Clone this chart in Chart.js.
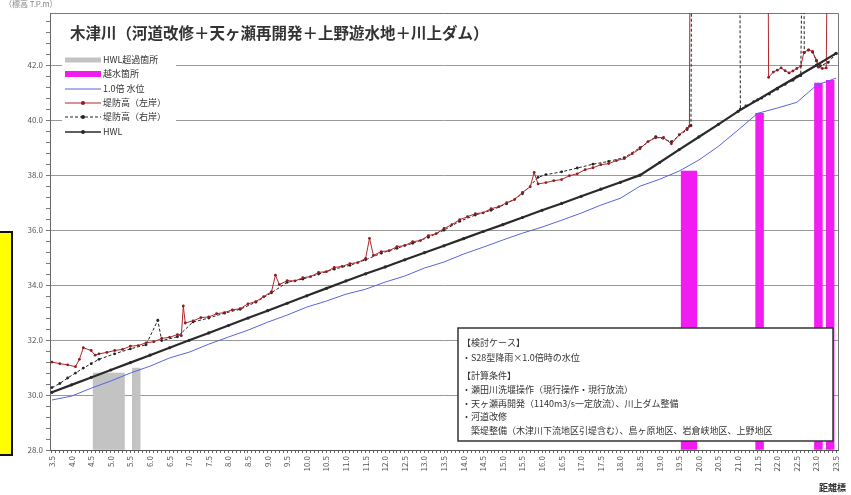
<!DOCTYPE html>
<html lang="ja">
<head>
<meta charset="utf-8">
<title>木津川 水位縦断図</title>
<script src="https://cdn.jsdelivr.net/npm/chart.js@4.4.1/dist/chart.umd.min.js"></script>
<style>
  html, body { margin: 0; padding: 0; background: #fff; }
  #wrap { position: relative; width: 851px; height: 495px; }
</style>
</head>
<body>
<div id="wrap"><canvas id="chart" width="851" height="495"></canvas></div>
<script>
/* axis ranges (距離標 km / 標高 T.P.m) */
const xMin = 3.45, xMax = 23.55;
const yMin = 28.0, yMax = 43.9;

/* HWL */
const hwlKm = [3.5, 4.0, 4.5, 5.0, 5.5, 6.0, 6.5, 7.0, 7.5, 8.0, 8.5, 9.0, 9.5, 10.0, 10.5, 11.0, 11.5, 12.0, 12.5, 13.0,
  13.5, 14.0, 14.5, 15.0, 15.5, 16.0, 16.5, 17.0, 17.5, 18.0, 18.5, 19.0, 19.5, 20.0, 20.5, 21.0, 21.5, 22.0, 22.5, 23.0, 23.5];
const hwlLevel = [30.10, 30.37, 30.64, 30.91, 31.18, 31.45, 31.72, 31.99, 32.26, 32.53, 32.80, 33.07, 33.34, 33.61, 33.88,
  34.15, 34.41, 34.66, 34.92, 35.18, 35.43, 35.69, 35.95, 36.20, 36.46, 36.72, 36.97, 37.23, 37.49, 37.74, 38.00, 38.46,
  38.93, 39.39, 39.85, 40.32, 40.74, 41.16, 41.58, 42.00, 42.43];

/* 1.0倍 水位 */
const waterKm = [3.5, 4.0, 4.5, 5.0, 5.5, 6.0, 6.5, 7.0, 7.5, 8.0, 8.5, 9.0, 9.5, 10.0, 10.5, 11.0, 11.5, 12.0, 12.5, 13.0,
  13.5, 14.0, 14.5, 15.0, 15.5, 16.0, 16.5, 17.0, 17.5, 18.0, 18.5, 19.0, 19.5, 20.0, 20.5, 21.0, 21.5, 22.0, 22.5, 23.0, 23.5];
const waterLevel = [29.82, 29.96, 30.25, 30.51, 30.80, 31.05, 31.35, 31.56, 31.85, 32.11, 32.36, 32.65, 32.91, 33.20, 33.42,
  33.67, 33.85, 34.11, 34.33, 34.62, 34.84, 35.13, 35.38, 35.64, 35.89, 36.11, 36.36, 36.62, 36.91, 37.16, 37.60, 37.85,
  38.15, 38.55, 39.05, 39.64, 40.25, 40.44, 40.65, 41.27, 41.53];

/* 堤防高（左岸）, 48.0 = 無堤区間の立ち上がり */
const leftKm = [3.5, 3.7, 3.9, 4.1, 4.2, 4.3, 4.5, 4.6, 4.7, 4.9, 5.1, 5.3, 5.5, 5.7, 5.9, 6.1, 6.3, 6.5, 6.7, 6.8, 6.85, 6.9,
  7.1, 7.3, 7.5, 7.7, 7.9, 8.1, 8.3, 8.5, 8.7, 8.9, 9.1, 9.2, 9.3, 9.5, 9.7, 9.9, 10.1, 10.3, 10.5, 10.7, 10.9, 11.1, 11.3,
  11.5, 11.6, 11.7, 11.9, 12.1, 12.3, 12.5, 12.7, 12.9, 13.1, 13.3, 13.5, 13.7, 13.9, 14.1, 14.3, 14.5, 14.7, 14.9, 15.1,
  15.3, 15.5, 15.7, 15.8, 15.9, 16.1, 16.3, 16.5, 16.7, 16.9, 17.1, 17.3, 17.5, 17.7, 17.9, 18.1, 18.3, 18.5, 18.7, 18.9,
  19.1, 19.3, 19.5, 19.7, 19.76, 19.78, 20.8, 21.76, 21.78, 21.9, 22.0, 22.1, 22.2, 22.3, 22.4, 22.5, 22.6, 22.68, 22.8,
  22.9, 23.0, 23.05, 23.15, 23.25, 23.29];
const leftLevee = [31.20, 31.14, 31.10, 31.03, 31.30, 31.72, 31.62, 31.45, 31.50, 31.55, 31.62, 31.66, 31.78, 31.80, 31.90,
  31.94, 32.06, 32.10, 32.20, 32.16, 33.24, 32.62, 32.70, 32.82, 32.84, 32.96, 33.00, 33.10, 33.14, 33.32, 33.40, 33.58,
  33.76, 34.36, 34.02, 34.16, 34.15, 34.27, 34.31, 34.46, 34.49, 34.64, 34.68, 34.78, 34.82, 34.97, 35.70, 35.08, 35.22,
  35.25, 35.40, 35.44, 35.58, 35.62, 35.80, 35.87, 36.06, 36.20, 36.38, 36.49, 36.60, 36.63, 36.78, 36.85, 37.00, 37.11,
  37.37, 37.58, 38.10, 37.68, 37.73, 37.80, 37.84, 37.98, 38.05, 38.20, 38.27, 38.38, 38.42, 38.53, 38.60, 38.78, 38.96,
  39.22, 39.36, 39.37, 39.14, 39.47, 39.70, 39.78, 48.0, null, 48.0, 41.56, 41.75, 41.82, 41.90, 41.80, 41.72, 41.79,
  41.88, 41.97, 42.47, 42.56, 42.50, 42.18, 41.93, 41.88, 41.90, 48.0];

/* 堤防高（右岸） */
const rightKm = [3.5, 3.7, 3.9, 4.1, 4.3, 4.5, 4.7, 5.1, 5.5, 5.9, 6.2, 6.3, 6.7, 7.1, 7.5, 7.9, 8.3, 8.7, 9.1, 9.5, 9.9,
  10.3, 10.7, 11.1, 11.5, 11.9, 12.3, 12.7, 13.1, 13.5, 13.9, 14.3, 14.7, 15.1, 15.5, 15.9, 16.1, 16.5, 16.9, 17.3, 17.7,
  18.1, 18.5, 18.9, 19.3, 19.7, 19.8, 19.82, 20.5, 21.04, 21.06, 21.2, 21.4, 21.6, 21.8, 22.0, 22.2, 22.4, 22.6, 22.65,
  22.67, 22.69, 22.8, 22.9, 23.0, 23.1, 23.3, 23.5];
const rightLevee = [30.27, 30.42, 30.62, 30.80, 30.98, 31.14, 31.30, 31.50, 31.68, 31.83, 32.72, 31.98, 32.12, 32.66, 32.80,
  32.98, 33.12, 33.38, 33.72, 34.10, 34.22, 34.40, 34.58, 34.72, 34.92, 35.16, 35.34, 35.52, 35.74, 36.00, 36.32, 36.55,
  36.72, 36.96, 37.32, 37.92, 38.02, 38.12, 38.26, 38.40, 38.50, 38.64, 39.00, 39.40, 39.22, 39.66, 39.80, 48.0, null,
  48.0, 40.40, 40.52, 40.67, 40.80, 40.95, 41.13, 41.30, 41.45, 41.62, 48.0, 48.0, 42.45, 42.55, 42.48, 42.15, 41.98,
  42.10, 42.42];

/* HWL超過箇所 / 越水箇所 (水位) */
const overHwlKm = [4.6, 4.7, 4.8, 4.9, 5.0, 5.1, 5.2, 5.3, 5.6, 5.7];
const overHwlLevel = [30.80, 30.80, 30.80, 30.80, 30.80, 30.80, 30.80, 30.80, 30.98, 30.98];
const overtopKm = [19.6, 19.7, 19.8, 19.9, 21.5, 21.6, 23.0, 23.1, 23.3, 23.4];
const overtopLevel = [38.15, 38.15, 38.15, 38.15, 40.25, 40.25, 41.35, 41.35, 41.45, 41.45];

const chartTitle = '木津川（河道改修＋天ヶ瀬再開発＋上野遊水地＋川上ダム）';
const noteLines = [
  '【検討ケース】',
  '・S28型降雨×1.0倍時の水位',
  '【計算条件】',
  '・瀬田川洗堰操作（現行操作・現行放流）',
  '・天ヶ瀬再開発（1140m3/s一定放流）、川上ダム整備',
  '・河道改修',
  '　築堤整備（木津川下流地区引堤含む）、島ヶ原地区、岩倉峡地区、上野地区'
];

const JP = '"Noto Sans CJK JP", "Noto Sans", sans-serif';

function pts(km, vals) {
  return km.map((k, i) => ({x: k, y: vals[i]}));
}

function isStep(v, step) {
  const r = v / step;
  return Math.abs(r - Math.round(r)) < 1e-6;
}

/* plot frame (top / right) */
const frame = {
  id: 'frame',
  beforeDatasetsDraw(chart) {
    const {ctx, chartArea: a} = chart;
    ctx.save();
    ctx.strokeStyle = '#777';
    ctx.lineWidth = 1;
    ctx.beginPath();
    ctx.moveTo(a.left, a.top + 0.5);
    ctx.lineTo(a.right + 0.5, a.top + 0.5);
    ctx.lineTo(a.right + 0.5, a.bottom);
    ctx.stroke();
    ctx.restore();
  }
};

/* title, legend, note box and side labels */
const overlay = {
  id: 'overlay',
  afterDraw(chart) {
    const ctx = chart.ctx;
    ctx.save();

    // title
    ctx.fillStyle = '#333';
    ctx.font = 'bold 15.5px ' + JP;
    ctx.textBaseline = 'middle';
    ctx.textAlign = 'left';
    ctx.fillText(chartTitle, 70, 33);

    // legend
    ctx.fillStyle = '#fff';
    ctx.fillRect(62, 52, 114, 88);
    const rowY = [60, 74, 89, 103, 117, 132];
    chart.data.datasets.forEach((ds, i) => {
      const y = rowY[i];
      ctx.save();
      ctx.strokeStyle = ds.legendColor;
      ctx.lineWidth = ds.legendWidth;
      ctx.setLineDash(ds.borderDash || []);
      ctx.beginPath();
      ctx.moveTo(65, y);
      ctx.lineTo(101, y);
      ctx.stroke();
      ctx.setLineDash([]);
      if (ds.pointRadius) {
        ctx.fillStyle = ds.pointBackgroundColor;
        ctx.beginPath();
        ctx.arc(83, y, 2, 0, Math.PI * 2);
        ctx.fill();
      }
      ctx.restore();
      ctx.fillStyle = '#333';
      ctx.font = '9px ' + JP;
      ctx.fillText(ds.label, 103, y);
    });

    // note box
    ctx.fillStyle = '#fff';
    ctx.fillRect(458, 328, 375, 113);
    ctx.strokeStyle = '#333';
    ctx.lineWidth = 1.5;
    ctx.strokeRect(458, 328, 375, 113);
    ctx.fillStyle = '#333';
    ctx.font = '9px ' + JP;
    const noteY = [343, 358, 376, 390, 404, 417, 431];
    noteLines.forEach((t, i) => ctx.fillText(t, 462, noteY[i]));

    // 距離標 / 標高
    ctx.font = 'bold 9px ' + JP;
    ctx.textAlign = 'right';
    ctx.fillText('距離標', 846, 488);
    ctx.font = '8px ' + JP;
    ctx.textAlign = 'left';
    ctx.fillStyle = '#888';
    ctx.fillText('（標高 T.P.m）', 4, 4);

    // yellow marker tab at left edge
    ctx.fillStyle = '#ffff00';
    ctx.fillRect(-4, 232, 16, 223);
    ctx.strokeStyle = '#111';
    ctx.lineWidth = 2;
    ctx.strokeRect(-4, 232, 16, 223);

    ctx.restore();
  }
};

const chart = new Chart(document.getElementById('chart').getContext('2d'), {
  type: 'line',
  data: {
    datasets: [
      {
        type: 'bar', label: 'HWL超過箇所', data: pts(overHwlKm, overHwlLevel),
        backgroundColor: '#c3c3c3', borderWidth: 0, base: yMin, grouped: false,
        barPercentage: 1, categoryPercentage: 1, order: 10,
        legendColor: '#c3c3c3', legendWidth: 5
      },
      {
        type: 'bar', label: '越水箇所', data: pts(overtopKm, overtopLevel),
        backgroundColor: '#f21cf2', borderWidth: 0, base: yMin, grouped: false,
        barPercentage: 1, categoryPercentage: 1, order: 9,
        legendColor: '#f21cf2', legendWidth: 6
      },
      {
        label: '1.0倍 水位', data: pts(waterKm, waterLevel),
        borderColor: '#5565e0', borderWidth: 1, pointRadius: 0, order: 4,
        legendColor: '#5565e0', legendWidth: 1
      },
      {
        label: '堤防高（左岸）', data: pts(leftKm, leftLevee),
        borderColor: '#b3262b', borderWidth: 1, pointRadius: 1.4,
        pointBackgroundColor: '#8c1d22', pointBorderWidth: 0, order: 2,
        legendColor: '#b3262b', legendWidth: 1
      },
      {
        label: '堤防高（右岸）', data: pts(rightKm, rightLevee),
        borderColor: '#222', borderWidth: 1, borderDash: [3, 2], pointRadius: 1.4,
        pointBackgroundColor: '#222', pointBorderWidth: 0, order: 3,
        legendColor: '#222', legendWidth: 1
      },
      {
        label: 'HWL', data: pts(hwlKm, hwlLevel),
        borderColor: '#2a2a2a', borderWidth: 2.2, pointRadius: 1.6,
        pointBackgroundColor: '#2a2a2a', pointBorderWidth: 0, order: 1,
        legendColor: '#2a2a2a', legendWidth: 1.5
      }
    ]
  },
  options: {
    responsive: false,
    animation: false,
    devicePixelRatio: 1,
    layout: {padding: {left: 0, right: 13, top: 13, bottom: 0}},
    plugins: {legend: {display: false}, tooltip: {enabled: false}},
    elements: {line: {tension: 0}},
    scales: {
      x: {
        type: 'linear', min: xMin, max: xMax, offset: false,
        grid: {drawOnChartArea: false, offset: false, tickLength: 3, tickColor: '#666'},
        border: {color: '#555', width: 1},
        ticks: {
          autoSkip: false, minRotation: 90, maxRotation: 90, padding: 3,
          color: '#555', font: {size: 8, family: JP},
          callback: v => isStep(v, 0.5) ? v.toFixed(1) : ''
        },
        // 0.1 km 刻みの目盛（0.5 km ごとに距離標）
        afterBuildTicks: s => {
          const t = [];
          for (let k = 35; k <= 235; k++) t.push({value: k / 10});
          s.ticks = t;
        },
        afterFit: s => { s.height = 45; }
      },
      y: {
        type: 'linear', min: yMin, max: yMax, beginAtZero: false,
        grid: {
          color: c => (c.tick && isStep(c.tick.value, 2)) ? '#999' : 'rgba(0,0,0,0)',
          tickLength: 4, tickColor: '#777'
        },
        border: {color: '#666', width: 1},
        ticks: {
          stepSize: 0.4, autoSkip: false, includeBounds: false, padding: 3,
          color: '#555', font: {size: 8, family: JP},
          callback: v => isStep(v, 2) ? v.toFixed(1) : ''
        },
        afterFit: s => { s.width = 50; }
      }
    }
  },
  plugins: [frame, overlay]
});
</script>
</body>
</html>
